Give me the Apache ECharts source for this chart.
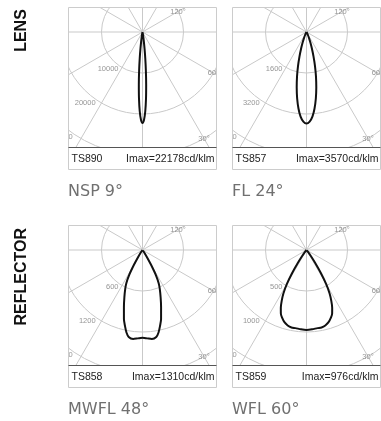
<!DOCTYPE html>
<html><head><meta charset="utf-8">
<script src="https://cdn.jsdelivr.net/npm/echarts@6/dist/echarts.min.js"></script>
<style>
html,body{margin:0;padding:0;background:#fff;}
#bg{position:absolute;left:0;top:0;width:381px;height:421px;}
.plot{position:absolute;width:147px;height:139px;}
</style></head><body>
<div id="bg"></div>
<div class="plot" id="p0" style="left:69px;top:8px"></div>
<div class="plot" id="p1" style="left:233px;top:8px"></div>
<div class="plot" id="p2" style="left:69px;top:226px"></div>
<div class="plot" id="p3" style="left:233px;top:226px"></div>
<script>
// ---- data ----
const groupLabels = ['LENS', 'REFLECTOR'];
const beamNames = ['NSP 9°', 'FL 24°', 'MWFL 48°', 'WFL 60°'];
const productCodes = ['TS890', 'TS857', 'TS858', 'TS859'];
const imaxValues = [22178, 3570, 1310, 976];
const ringTicks = [
  [10000, 20000, 30000],
  [1600, 3200, 4800],
  [600, 1200, 1800],
  [500, 1000, 1500]
];
const angleLabelTexts = ['30°', '60°', '120°'];
const angleLabelAngles = [30, 60, 120];
const angleLabelRing = [3, 2, 1];

// half curves (angle from nadir, cd/klm), mirrored for the symmetric plane
const nspAngles = [0, 1, 2, 3, 4, 5, 6, 7, 8, 9, 10, 12, 15, 20];
const nspIntensity = [22178, 21420, 19340, 16300, 12820, 9430, 6470, 4150, 2480, 1390, 720, 160, 30, 0];
const flAngles = [0, 2, 4, 6, 8, 10, 12, 14, 16, 18, 20, 22, 25, 30, 35];
const flIntensity = [3570, 3500, 3310, 3000, 2620, 2200, 1780, 1370, 990, 680, 450, 280, 130, 40, 0];
const mwflAngles = [0, 3, 6, 9, 11, 13, 15, 18, 21, 24, 26, 28, 30, 32, 35, 40, 45];
const mwflIntensity = [1285, 1295, 1310, 1290, 1230, 1140, 1050, 880, 740, 620, 540, 420, 250, 120, 40, 10, 0];
const wflAngles = [0, 4, 8, 11, 14, 17, 20, 22, 24, 26, 28, 30, 32, 34, 36, 40, 45, 50];
const wflIntensity = [976, 970, 962, 962, 948, 920, 875, 835, 770, 690, 600, 480, 330, 190, 90, 25, 5, 0];

const curves = [
  {a: nspAngles, v: nspIntensity},
  {a: flAngles, v: flIntensity},
  {a: mwflAngles, v: mwflIntensity},
  {a: wflAngles, v: wflIntensity}
];

// ---- layout ----
const RING_PX = 41;
const boxX = [68.5, 232.5];
const boxY = [7.5, 225.5];
const BOX_W = 148, BOX_H = 162, PLOT_H = 140;
const gridColor = '#c9c9c9';

// background: boxes, footers, captions, side labels
const bg = echarts.init(document.getElementById('bg'));
const g = [];
for (let i = 0; i < 4; i++) {
  const x0 = boxX[i % 2], y0 = boxY[Math.floor(i / 2)];
  g.push({type: 'rect', shape: {x: x0, y: y0, width: BOX_W, height: BOX_H},
    style: {fill: '#fff', stroke: '#cccccc', lineWidth: 1}});
  g.push({type: 'line', shape: {x1: x0, y1: y0 + PLOT_H, x2: x0 + BOX_W, y2: y0 + PLOT_H},
    style: {stroke: '#555', lineWidth: 1}});
  g.push({type: 'text', x: x0 + 3, y: y0 + 151.5,
    style: {text: productCodes[i], fill: '#222', font: '10.5px "Liberation Sans"', textAlign: 'left', textVerticalAlign: 'middle'}});
  g.push({type: 'text', x: x0 + 146, y: y0 + 151.5,
    style: {text: 'Imax=' + imaxValues[i] + 'cd/klm', fill: '#222', font: '10.5px "Liberation Sans"', textAlign: 'right', textVerticalAlign: 'middle'}});
  g.push({type: 'text', x: x0 - 0.5, y: y0 + 184,
    style: {text: beamNames[i], fill: '#707070', font: '16px "DejaVu Sans"', textAlign: 'left', textVerticalAlign: 'middle'}});
}
const sideY = [30.5, 276.7];
for (let r = 0; r < 2; r++) {
  g.push({type: 'text', x: 21.5, y: sideY[r], rotation: Math.PI / 2,
    style: {text: groupLabels[r], fill: '#111', font: 'bold 16px "Liberation Sans"', textAlign: 'center', textVerticalAlign: 'middle'}});
}
bg.setOption({animation: false, graphic: g});

function panelOption(i) {
  const step = ringTicks[i][0];
  const c = curves[i];
  const data = [];
  for (let k = c.a.length - 1; k > 0; k--) data.push([c.v[k], 360 - c.a[k]]);
  for (let k = 0; k < c.a.length; k++) data.push([c.v[k], c.a[k]]);
  const labelFont = {color: '#7a7a7a', fontSize: 7.5, fontFamily: 'Liberation Sans'};
  return {
    animation: false,
    polar: {center: [73.5, 24], radius: 3.5 * RING_PX},
    angleAxis: {type: 'value', min: 0, max: 360, interval: 30, startAngle: 270, clockwise: false,
      axisLine: {show: false}, axisTick: {show: false}, axisLabel: {show: false},
      splitLine: {show: true, lineStyle: {color: gridColor, width: 1}}},
    radiusAxis: {type: 'value', min: 0, max: 3.5 * step, interval: step,
      axisLine: {show: false}, axisTick: {show: false}, axisLabel: {show: false},
      splitLine: {show: true, lineStyle: {color: gridColor, width: 1}}},
    series: [
      {type: 'line', coordinateSystem: 'polar', data: data, smooth: 0.25, symbol: 'none',
        lineStyle: {color: '#111', width: 2}, z: 5, clip: false},
      {type: 'scatter', coordinateSystem: 'polar', symbolSize: 0.1, itemStyle: {color: 'rgba(0,0,0,0)'},
        data: ringTicks[i].map(v => [v, 326]),
        label: Object.assign({show: true, position: 'left', distance: 1, offset: [0, 3],
          formatter: p => String(p.value[0])}, labelFont), z: 4},
      {type: 'scatter', coordinateSystem: 'polar', symbolSize: 0.1, itemStyle: {color: 'rgba(0,0,0,0)'},
        data: angleLabelTexts.map((t, k) => ({name: t, value: [ringTicks[i][angleLabelRing[k] - 1], angleLabelAngles[k]]})),
        label: Object.assign({show: true, position: 'inside', formatter: '{b}'}, labelFont), z: 4}
    ]
  };
}
for (let i = 0; i < 4; i++) {
  const ch = echarts.init(document.getElementById('p' + i));
  ch.setOption(panelOption(i));
}
</script>
</body></html>
